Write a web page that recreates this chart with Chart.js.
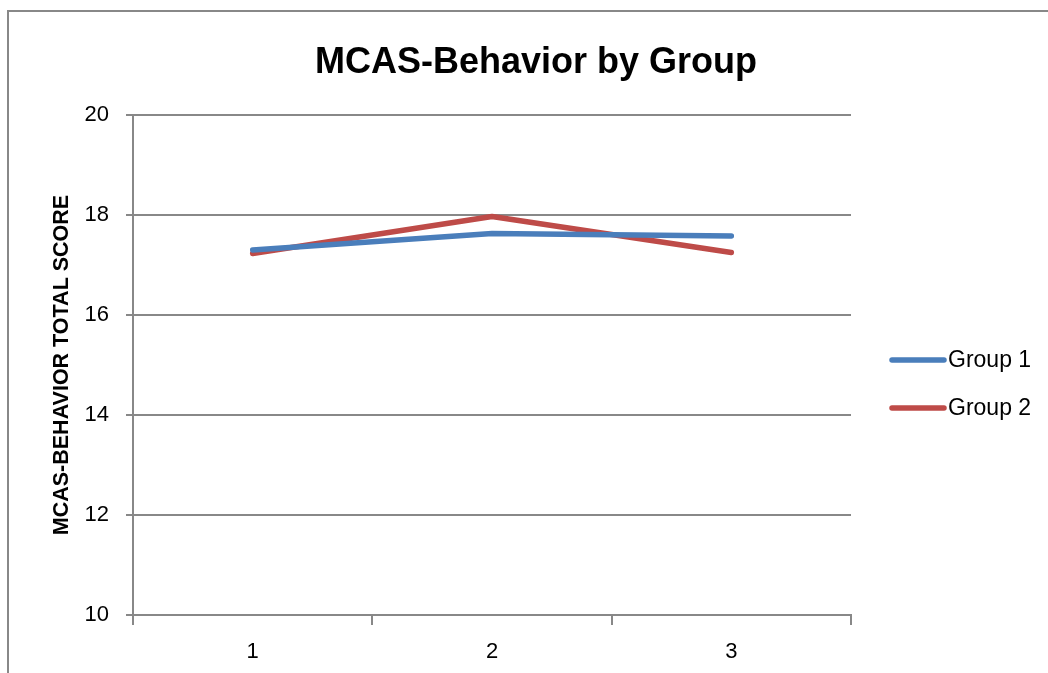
<!DOCTYPE html>
<html>
<head>
<meta charset="utf-8">
<script src="https://cdn.jsdelivr.net/npm/chart.js@4"></script>
<style>
  html, body { margin: 0; padding: 0; background: #fff; }
  #wrap { position: relative; width: 1048px; height: 673px; }
</style>
</head>
<body>
<div id="wrap"><canvas id="c"></canvas></div>
<script>
const chartTitle = "MCAS-Behavior by Group";
const yAxisTitle = "MCAS-BEHAVIOR TOTAL SCORE";
const categories = ["1", "2", "3"];
const seriesNames = ["Group 1", "Group 2"];
const group1 = [17.30, 17.63, 17.58];
const group2 = [17.23, 17.97, 17.25];
const yTicks = [10, 12, 14, 16, 18, 20];
const colors = ["#4A7EBB", "#BE4B48"];

const FONT = "'Liberation Sans', Arial, sans-serif";
const GRID = "#888888";

const decorPlugin = {
  id: 'decor',
  beforeDraw(chart) {
    const ctx = chart.ctx;
    ctx.save();
    ctx.fillStyle = '#fff';
    ctx.fillRect(0, 0, chart.width, chart.height);
    ctx.strokeStyle = GRID;
    ctx.lineWidth = 2;
    ctx.beginPath();
    ctx.moveTo(8, chart.height + 5);
    ctx.lineTo(8, 11);
    ctx.lineTo(chart.width + 5, 11);
    ctx.stroke();
    ctx.restore();
  },
  afterDraw(chart) {
    const ctx = chart.ctx;
    ctx.save();
    // title
    ctx.fillStyle = '#000';
    ctx.font = "bold 36px " + FONT;
    ctx.textAlign = 'center';
    ctx.textBaseline = 'alphabetic';
    ctx.fillText(chartTitle, 536, 73);
    // legend
    ctx.font = "23px " + FONT;
    ctx.textAlign = 'left';
    ctx.textBaseline = 'middle';
    const ys = [360, 408];
    chart.data.datasets.forEach((ds, i) => {
      ctx.strokeStyle = ds.borderColor;
      ctx.lineWidth = 5.5;
      ctx.lineCap = 'round';
      ctx.beginPath();
      ctx.moveTo(892, ys[i]);
      ctx.lineTo(944, ys[i]);
      ctx.stroke();
      ctx.fillStyle = '#000';
      ctx.fillText(ds.label, 948, ys[i] + 1);
    });
    ctx.restore();
  }
};

new Chart(document.getElementById('c'), {
  type: 'line',
  data: {
    labels: categories,
    datasets: [
      { label: seriesNames[0], data: group1, borderColor: colors[0], backgroundColor: colors[0] },
      { label: seriesNames[1], data: group2, borderColor: colors[1], backgroundColor: colors[1] }
    ]
  },
  options: {
    responsive: true,
    maintainAspectRatio: false,
    animation: false,
    devicePixelRatio: 1,
    layout: { padding: { top: 115, left: 0, right: 197, bottom: 0 } },
    elements: {
      line: { borderWidth: 5.5, tension: 0, borderCapStyle: 'round', borderJoinStyle: 'round' },
      point: { radius: 0, hoverRadius: 0 }
    },
    plugins: {
      legend: { display: false },
      title: { display: false },
      tooltip: { enabled: false }
    },
    scales: {
      x: {
        type: 'category',
        offset: true,
        grid: { offset: true, drawOnChartArea: false, drawTicks: true, tickLength: 10, color: GRID, lineWidth: 2 },
        border: { display: true, color: GRID, width: 2 },
        ticks: { color: '#000', font: { family: FONT, size: 22 }, padding: 14, maxRotation: 0 },
        afterFit(scale) { scale.height = 58; }
      },
      y: {
        min: 10,
        max: 20,
        afterBuildTicks(scale) { scale.ticks = yTicks.map(v => ({ value: v })); },
        grid: { drawTicks: true, tickLength: 7, color: GRID, lineWidth: 2 },
        border: { display: true, color: GRID, width: 2 },
        ticks: { color: '#000', font: { family: FONT, size: 22 }, padding: 17 },
        title: {
          display: true,
          text: yAxisTitle,
          color: '#000',
          font: { family: FONT, size: 21.5, weight: 'bold' },
          padding: { top: 49, bottom: 0 }
        },
        afterFit(scale) { scale.width = 133; }
      }
    }
  },
  plugins: [decorPlugin]
});
</script>
</body>
</html>
